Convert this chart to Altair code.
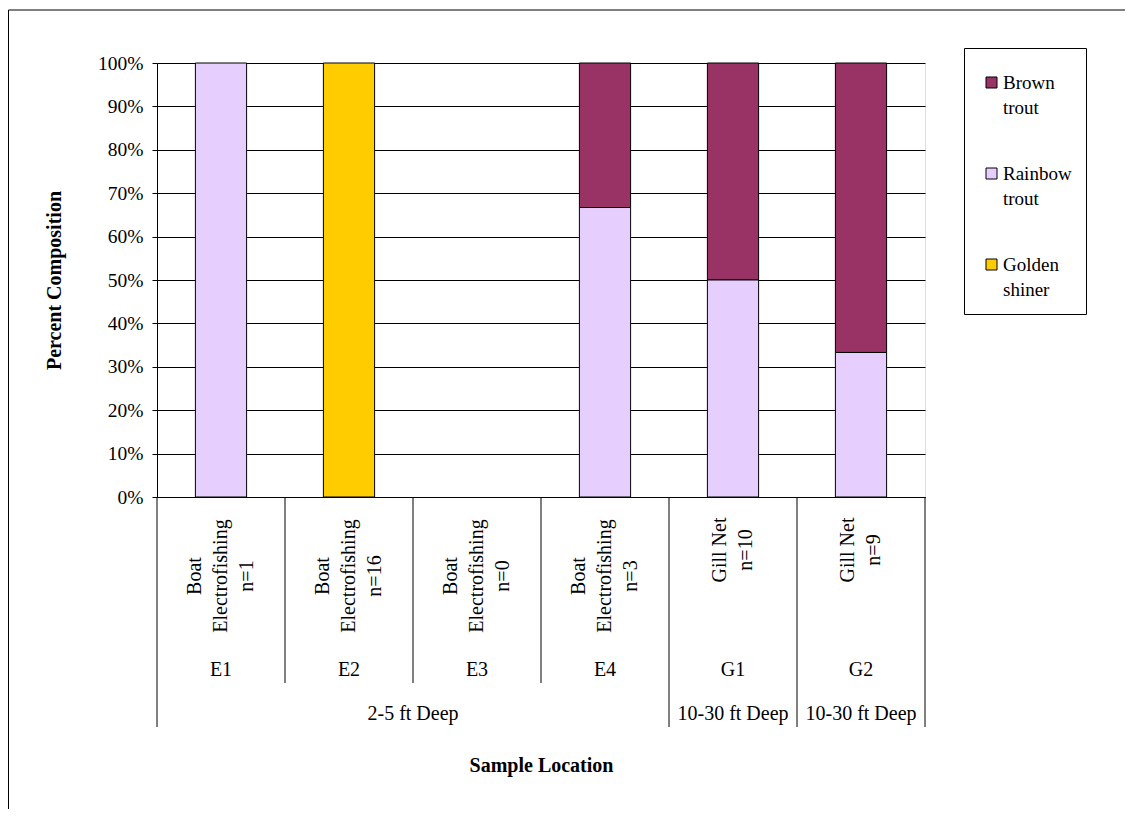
import altair as alt
import pandas as pd

# ---------------- data ----------------
locations = ["E1", "E2", "E3", "E4", "G1", "G2"]
method_lines = [["Boat", "Electrofishing"]] * 4 + [["Gill Net"]] * 2
catch_n = [1, 16, 0, 3, 10, 9]
depth_labels = ["2-5 ft Deep", "10-30 ft Deep", "10-30 ft Deep"]
depth_spans = [4, 1, 1]

species = ["Brown trout", "Rainbow trout", "Golden shiner"]
species_colors = ["#993366", "#E6CFFF", "#FFCC00"]
stack_bottom_to_top = ["Rainbow trout", "Golden shiner", "Brown trout"]

brown_pct = [0, 0, 0, 33.3, 50, 66.7]
rainbow_pct = [100, 0, 0, 66.7, 50, 33.3]
golden_pct = [0, 100, 0, 0, 0, 0]

y_ticks = [0, 10, 20, 30, 40, 50, 60, 70, 80, 90, 100]

FONT = "Liberation Serif"
W, H = 768, 434
LH = 26

# ---------------- tables ----------------
rows = []
for sp, vals in zip(species, [brown_pct, rainbow_pct, golden_pct]):
    for loc, v in zip(locations, vals):
        if v > 0:
            rows.append({"loc": loc, "species": sp, "pct": v,
                         "rank": stack_bottom_to_top.index(sp)})
bars_df = pd.DataFrame(rows)

lab_df = pd.DataFrame({
    "loc": locations,
    "method": [" ".join(m) for m in method_lines],
    "label": ["\n".join(m + [f"n={n}"]) for m, n in zip(method_lines, catch_n)],
})

# separators: first location of each depth group gets a long line, others short
group_first = []
start = 0
for span in depth_spans:
    group_first.append(locations[start])
    start += span
sep_df = pd.DataFrame({
    "loc": locations,
    "kind": ["long" if l in group_first else "short" for l in locations],
})

# depth labels: anchor at centre of its span
d_rows = []
start = 0
for lab, span in zip(depth_labels, depth_spans):
    d_rows.append({"loc": locations[start + span // 2], "label": lab,
                   "edge": "left" if span % 2 == 0 else "mid"})
    start += span
depth_df = pd.DataFrame(d_rows)

# ---------------- chart ----------------
xscale = alt.Scale(domain=locations, paddingInner=0, paddingOuter=0)
xaxis = alt.Axis(labels=False, ticks=False, domainColor="black", domainWidth=1,
                 title="Sample Location", titleFont=FONT, titleFontSize=20,
                 titleFontWeight="bold", titleColor="black", titlePadding=258)


def X(bp=None):
    if bp is None:
        return alt.X("loc:N", scale=xscale, axis=xaxis, sort=locations)
    return alt.X("loc:N", scale=xscale, axis=xaxis, sort=locations, bandPosition=bp)


bars = alt.Chart(bars_df).mark_bar(
    width=alt.RelativeBandSize(0.4), stroke="black", strokeWidth=1
).encode(
    x=X(),
    y=alt.Y("pct:Q", stack="zero", scale=alt.Scale(domain=[0, 100], nice=False),
            axis=alt.Axis(values=y_ticks, labelExpr="datum.value + '%'",
                          grid=True, gridColor="black", gridWidth=1,
                          tickColor="black", tickSize=5, domainColor="black",
                          labelFont=FONT, labelFontSize=19.5, labelColor="black",
                          labelPadding=9, title="Percent Composition",
                          titleFont=FONT, titleFontSize=20, titleFontWeight="bold",
                          titleColor="black", titlePadding=33)),
    color=alt.Color("species:N",
                    scale=alt.Scale(domain=species, range=species_colors),
                    legend=alt.Legend(title=" ", titleFontSize=2, titlePadding=9,
                                      orient="none", legendX=807, legendY=-15,
                                      labelExpr="split(datum.label, ' ')",
                                      symbolType="square", symbolSize=121,
                                      symbolStrokeColor="black", symbolStrokeWidth=1,
                                      symbolOffset=4,
                                      strokeColor="black", padding=14, rowPadding=46,
                                      labelFont=FONT, labelFontSize=19, labelColor="black",
                                      labelOffset=2)),
    order=alt.Order("rank:Q"),
)

text_style = dict(font=FONT, fontSize=20, color="black")

method_boat = alt.Chart(lab_df).transform_filter(
    "datum.method != 'Gill Net'"
).mark_text(angle=270, align="center", baseline="middle", lineBreak="\n",
            lineHeight=LH, dy=-LH, **text_style).encode(
    x=X(), y=alt.value(513), text="label:N")

method_gill = alt.Chart(lab_df).transform_filter(
    "datum.method == 'Gill Net'"
).mark_text(angle=270, align="center", baseline="middle", lineBreak="\n",
            lineHeight=LH, dy=-LH / 2, **text_style).encode(
    x=X(), y=alt.value(487), text="label:N")

loc_text = alt.Chart(lab_df).mark_text(
    align="center", baseline="middle", **text_style
).encode(x=X(), y=alt.value(607), text="loc:N")

depth_left = alt.Chart(depth_df).transform_filter("datum.edge == 'left'").mark_text(
    align="center", baseline="middle", **text_style
).encode(x=X(0), y=alt.value(651), text="label:N")

depth_mid = alt.Chart(depth_df).transform_filter("datum.edge == 'mid'").mark_text(
    align="center", baseline="middle", **text_style
).encode(x=X(), y=alt.value(651), text="label:N")

sep_short = alt.Chart(sep_df).transform_filter("datum.kind == 'short'").mark_rule(
    color="black", strokeWidth=1
).encode(x=X(0), y=alt.value(H), y2=alt.value(620))

sep_long = alt.Chart(sep_df).transform_filter("datum.kind == 'long'").mark_rule(
    color="black", strokeWidth=1
).encode(x=X(0), y=alt.value(H), y2=alt.value(664))

sep_end = alt.Chart(sep_df).transform_filter(
    alt.datum.loc == locations[-1]
).mark_rule(color="black", strokeWidth=1).encode(
    x=X(1), y=alt.value(H), y2=alt.value(664))

frame_left = alt.Chart(sep_df.head(1)).mark_rule(color="black", strokeWidth=1).encode(
    x=alt.value(-148.5), y=alt.value(-53), y2=alt.value(746))
frame_top = alt.Chart(sep_df.head(1)).mark_rule(color="black", strokeWidth=1).encode(
    x=alt.value(-148.5), x2=alt.value(968), y=alt.value(-53))

chart = alt.layer(
    bars, sep_short, sep_long, sep_end, method_boat, method_gill,
    loc_text, depth_left, depth_mid, frame_left, frame_top
).properties(
    width=W, height=H,
    autosize=alt.AutoSizeParams(type="none"),
    padding={"left": 149, "top": 55, "right": 200, "bottom": 312},
).configure_view(
    stroke="#808080", strokeWidth=1
).configure(
    font=FONT,
    style={"guide-label": {"lineHeight": 25, "font": FONT},
           "guide-title": {"font": FONT}},
)

chart.save("out.html", embed_options={"renderer": "svg", "actions": False})
